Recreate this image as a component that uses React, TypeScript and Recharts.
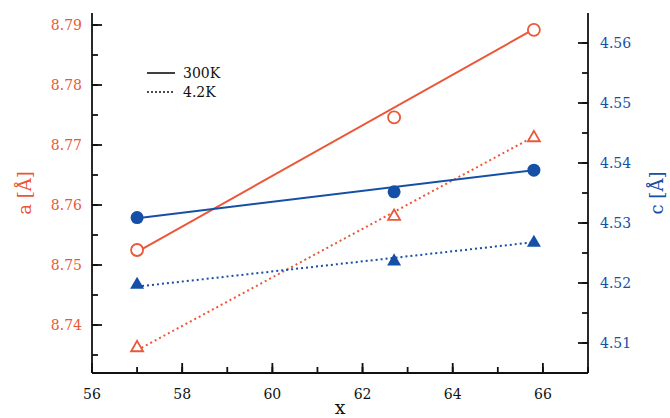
import { ComposedChart, Legend, Line, Scatter, XAxis, YAxis } from "recharts";

const RED = "#ea5739";
const BLUE = "#1550a6";
const INK = "#111";
const FONT = "'DejaVu Serif', serif";

// measured points
const xPoints = [57, 62.7, 65.8];
const a300K = [8.7525, 8.7746, 8.7892];
const a4K = [8.7362, 8.7581, 8.7712];
const c300K = [4.5309, 4.5352, 4.5388];
const c4K = [4.5197, 4.5236, 4.5267];

// fitted lines (end points)
const fitX = [57, 65.8];
const a300KFit = [8.7522, 8.7893];
const a4KFit = [8.7358, 8.7714];
const c300KFit = [4.5308, 4.5388];
const c4KFit = [4.5194, 4.5268];

const xTicks = [56, 57, 58, 59, 60, 61, 62, 63, 64, 65, 66, 67];
const aTicks = [8.735, 8.74, 8.745, 8.75, 8.755, 8.76, 8.765, 8.77, 8.775, 8.78, 8.785, 8.79];
const cTicks = [4.51, 4.515, 4.52, 4.525, 4.53, 4.535, 4.54, 4.545, 4.55, 4.555, 4.56];

const toPts = (xs: number[], ys: number[]) => xs.map((x, i) => ({ x, y: ys[i] }));

const majorY = (v: number) => Math.round(v * 1000) % 10 === 0;
const majorX = (v: number) => Math.round(v) % 2 === 0;

const MINOR = 6; // built-in inward tick length
const MAJOR = 10;
const tickStroke = { stroke: INK, strokeWidth: 1.8 };

// tick x/y arrive at the inner end of the built-in tick; majors get extended
const LeftTick = (p: any) => {
  const v = p.payload.value;
  const edge = p.x - MINOR;
  return majorY(v) ? (
    <g>
      <path d={`M${edge},${p.y} H${edge + MAJOR}`} {...tickStroke} />
      <text x={edge - 10} y={p.y + 5} textAnchor="end" fill={RED} fontSize={14} fontFamily={FONT}>
        {v.toFixed(2)}
      </text>
    </g>
  ) : (
    <g />
  );
};

const RightTick = (p: any) => {
  const v = p.payload.value;
  const edge = p.x + MINOR;
  return majorY(v) ? (
    <g>
      <path d={`M${edge},${p.y} H${edge - MAJOR}`} {...tickStroke} />
      <text x={edge + 12} y={p.y + 5} textAnchor="start" fill={BLUE} fontSize={14} fontFamily={FONT}>
        {v.toFixed(2)}
      </text>
    </g>
  ) : (
    <g />
  );
};

const BottomTick = (p: any) => {
  const v = p.payload.value;
  const edge = p.y + MINOR;
  return majorX(v) ? (
    <g>
      <path d={`M${p.x},${edge} V${edge - MAJOR}`} {...tickStroke} />
      <text x={p.x} y={edge + 26} textAnchor="middle" fill={INK} fontSize={14} fontFamily={FONT}>
        {v}
      </text>
    </g>
  ) : (
    <g />
  );
};

const TopTick = (p: any) => {
  const edge = p.y - MINOR;
  return majorX(p.payload.value) ? (
    <path d={`M${p.x},${edge} V${edge + MAJOR}`} {...tickStroke} />
  ) : (
    <g />
  );
};

const OpenCircle = (p: any) => (
  <circle cx={p.cx} cy={p.cy} r={6} fill="#fff" stroke={RED} strokeWidth={1.8} />
);
const FilledCircle = (p: any) => <circle cx={p.cx} cy={p.cy} r={6.5} fill={BLUE} />;

const tri = (cx: number, cy: number, s: number) => {
  const h = s * 0.866;
  return `M${cx},${cy - (2 * h) / 3} L${cx + s / 2},${cy + h / 3} L${cx - s / 2},${cy + h / 3} Z`;
};
const OpenTriangle = (p: any) => (
  <path d={tri(p.cx, p.cy, 12)} fill="#fff" stroke={RED} strokeWidth={1.8} />
);
const FilledTriangle = (p: any) => <path d={tri(p.cx, p.cy, 14)} fill={BLUE} />;

const LegendBox = () => (
  <svg width={110} height={45}>
    <line x1={7} x2={35} y1={13} y2={13} stroke={INK} strokeWidth={1.6} />
    <text x={43} y={18} fontSize={14} fontFamily={FONT} fill={INK}>300K</text>
    <line x1={7} x2={35} y1={32} y2={32} stroke={INK} strokeWidth={1.6} strokeDasharray="2 2" />
    <text x={43} y={37} fontSize={14} fontFamily={FONT} fill={INK}>4.2K</text>
  </svg>
);

const axisCommon = {
  type: "number" as const,
  interval: 0,
  tickSize: -MINOR,
  tickMargin: 0,
  tickLine: tickStroke,
  axisLine: { stroke: INK, strokeWidth: 1.8 },
};

export default function App() {
  return (
    <div style={{ position: "absolute", left: 0, top: 0, background: "#fff" }}>
      <ComposedChart
        width={670}
        height={418}
        margin={{ top: 13, right: 0, bottom: 0, left: 0 }}
        style={{ fontFamily: FONT }}
      >
        <XAxis
          {...axisCommon}
          xAxisId="b"
          dataKey="x"
          domain={[56, 67]}
          ticks={xTicks}
          height={45}
          tick={BottomTick}
          label={{ value: "x", position: "center", dy: 12, fontSize: 19, fill: INK }}
        />
        <XAxis
          {...axisCommon}
          xAxisId="t"
          orientation="top"
          domain={[56, 67]}
          ticks={xTicks}
          height={0}
          tick={TopTick}
        />
        <YAxis
          {...axisCommon}
          yAxisId="a"
          dataKey="y"
          domain={[8.732, 8.792]}
          ticks={aTicks}
          width={92}
          tick={LeftTick}
          label={{ value: "a [Å]", angle: -90, position: "center", dx: -21, fontSize: 18, fill: RED }}
        />
        <YAxis
          {...axisCommon}
          yAxisId="c"
          orientation="right"
          dataKey="y"
          domain={[4.505, 4.565]}
          ticks={cTicks}
          width={82}
          tick={RightTick}
          label={{ value: "c [Å]", angle: -90, position: "center", dx: 28, fontSize: 18, fill: BLUE }}
        />

        <Line xAxisId="b" yAxisId="a" data={toPts(fitX, a300KFit)} dataKey="y" stroke={RED} strokeWidth={2} dot={false} isAnimationActive={false} />
        <Line xAxisId="b" yAxisId="a" data={toPts(fitX, a4KFit)} dataKey="y" stroke={RED} strokeWidth={2} strokeDasharray="2 3" dot={false} isAnimationActive={false} />
        <Line xAxisId="b" yAxisId="c" data={toPts(fitX, c300KFit)} dataKey="y" stroke={BLUE} strokeWidth={2} dot={false} isAnimationActive={false} />
        <Line xAxisId="b" yAxisId="c" data={toPts(fitX, c4KFit)} dataKey="y" stroke={BLUE} strokeWidth={2} strokeDasharray="2 3" dot={false} isAnimationActive={false} />

        <Scatter xAxisId="b" yAxisId="a" data={toPts(xPoints, a300K)} dataKey="y" shape={OpenCircle} isAnimationActive={false} />
        <Scatter xAxisId="b" yAxisId="a" data={toPts(xPoints, a4K)} dataKey="y" shape={OpenTriangle} isAnimationActive={false} />
        <Scatter xAxisId="b" yAxisId="c" data={toPts(xPoints, c300K)} dataKey="y" shape={FilledCircle} isAnimationActive={false} />
        <Scatter xAxisId="b" yAxisId="c" data={toPts(xPoints, c4K)} dataKey="y" shape={FilledTriangle} isAnimationActive={false} />

        <Legend
          layout="vertical"
          align="center"
          verticalAlign="middle"
          wrapperStyle={{ left: 140, top: 60, width: 110, height: 45 }}
          content={LegendBox}
        />
      </ComposedChart>
    </div>
  );
}
